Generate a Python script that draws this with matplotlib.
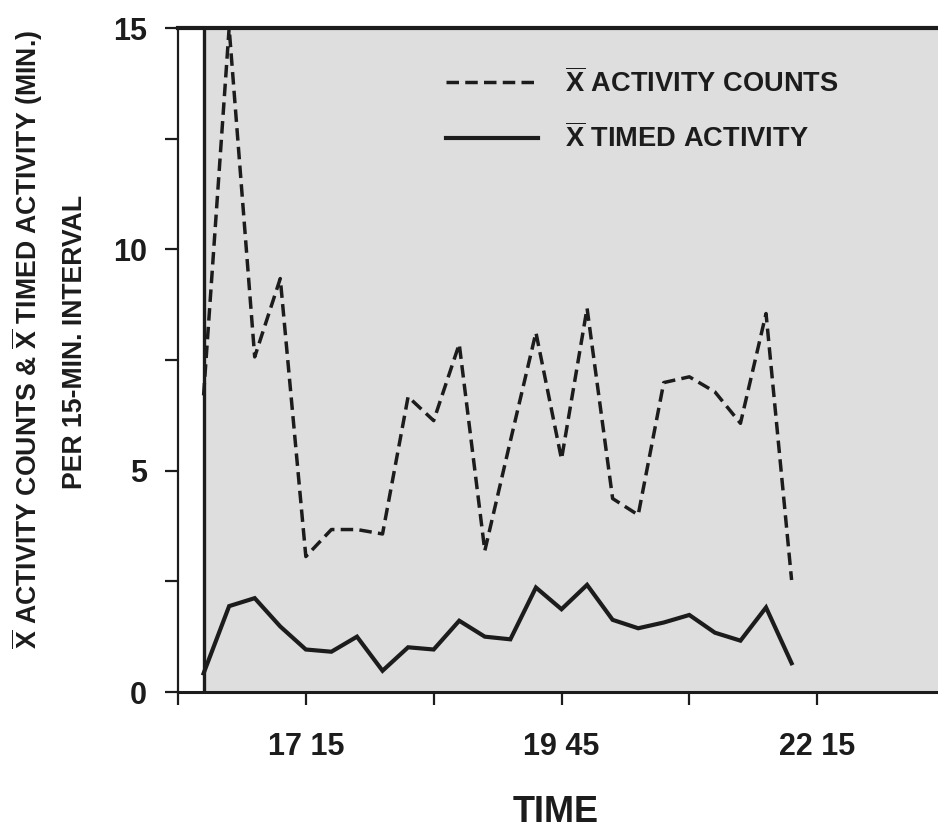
import numpy as np
import matplotlib
matplotlib.use('Agg')
import matplotlib.pyplot as plt
from matplotlib.ticker import MultipleLocator

plt.rcParams['font.family'] = ['Liberation Sans', 'DejaVu Sans']
plt.rcParams['font.weight'] = 'bold'
plt.rcParams['mathtext.fontset'] = 'custom'
plt.rcParams['mathtext.bf'] = 'Liberation Sans:bold'
plt.rcParams['mathtext.rm'] = 'Liberation Sans:bold'

# 15-min intervals counted from 16 00
interval = np.arange(1, 25)
activity_counts = [6.7, 15.0, 7.57, 9.34, 3.06, 3.67, 3.67, 3.57, 6.67, 6.13, 7.86, 3.19,
                   5.67, 8.12, 5.26, 8.67, 4.37, 4.0, 6.99, 7.12, 6.78, 6.07, 8.55, 2.53]
timed_activity = [0.42, 1.94, 2.12, 1.48, 0.96, 0.91, 1.25, 0.48, 1.01, 0.96, 1.61, 1.25,
                  1.19, 2.36, 1.87, 2.42, 1.63, 1.44, 1.57, 1.74, 1.34, 1.16, 1.91, 0.65]
xticks = [0, 5, 10, 15, 20, 25, 30]
xtick_labels = ['', '17 15', '', '19 45', '', '22 15', '']
yticks = [0, 5, 10, 15]

ink = '#1c1c1c'
W, H = 938, 831

fig = plt.figure(figsize=(W / 100, H / 100), dpi=100)
ax = fig.add_axes([178 / W, 139 / H, 767 / W, 664 / H])
ax.set_xlim(0, 30)
ax.set_ylim(0, 15)

# stippled panel
ax.axvspan(1, 30, facecolor='#dedede', lw=0, zorder=0)
ax.axvline(1, color=ink, lw=2.4, zorder=3)

ax.plot(interval, activity_counts, color=ink, lw=2.5, ls=(0, (3.6, 1.8)),
        label=r'$\overline{\mathbf{X}}$ ACTIVITY COUNTS', zorder=4)
ax.plot(interval, timed_activity, color=ink, lw=3.0, solid_joinstyle='miter',
        label=r'$\overline{\mathbf{X}}$ TIMED ACTIVITY', zorder=4)

ax.spines['right'].set_visible(False)
ax.spines['top'].set_linewidth(3.0)
ax.spines['left'].set_linewidth(1.6)
ax.spines['bottom'].set_linewidth(2.2)
for s in ax.spines.values():
    s.set_color(ink)

ax.set_yticks(yticks)
ax.yaxis.set_minor_locator(MultipleLocator(2.5))
ax.tick_params(axis='y', which='both', direction='out', length=9.5, width=1.6,
               pad=13, labelsize=22, colors=ink)
ax.set_xticks(xticks)
ax.set_xticklabels(xtick_labels)
ax.tick_params(axis='x', direction='out', length=9.5, width=1.6, pad=19,
               labelsize=22, colors=ink)

leg = ax.legend(loc='upper left', bbox_to_anchor=(0.349, 0.94), frameon=False,
                fontsize=19.6, handlelength=3.4, handletextpad=1.0,
                labelspacing=0.95, borderpad=0, borderaxespad=0)
for t in leg.get_texts():
    t.set_color(ink)

fig.text(27 / W, 1 - 339 / H,
         r'$\overline{\mathbf{X}}$ ACTIVITY COUNTS & $\overline{\mathbf{X}}$ TIMED ACTIVITY (MIN.)',
         rotation=90, ha='center', va='center', fontsize=19.2, color=ink)
fig.text(75 / W, 1 - 342 / H, 'PER 15-MIN. INTERVAL',
         rotation=90, ha='center', va='center', fontsize=19.2, color=ink)
fig.text(556 / W, 1 - 812 / H, 'TIME', ha='center', va='center', fontsize=26, color=ink)

fig.savefig('out.png', dpi=100)
